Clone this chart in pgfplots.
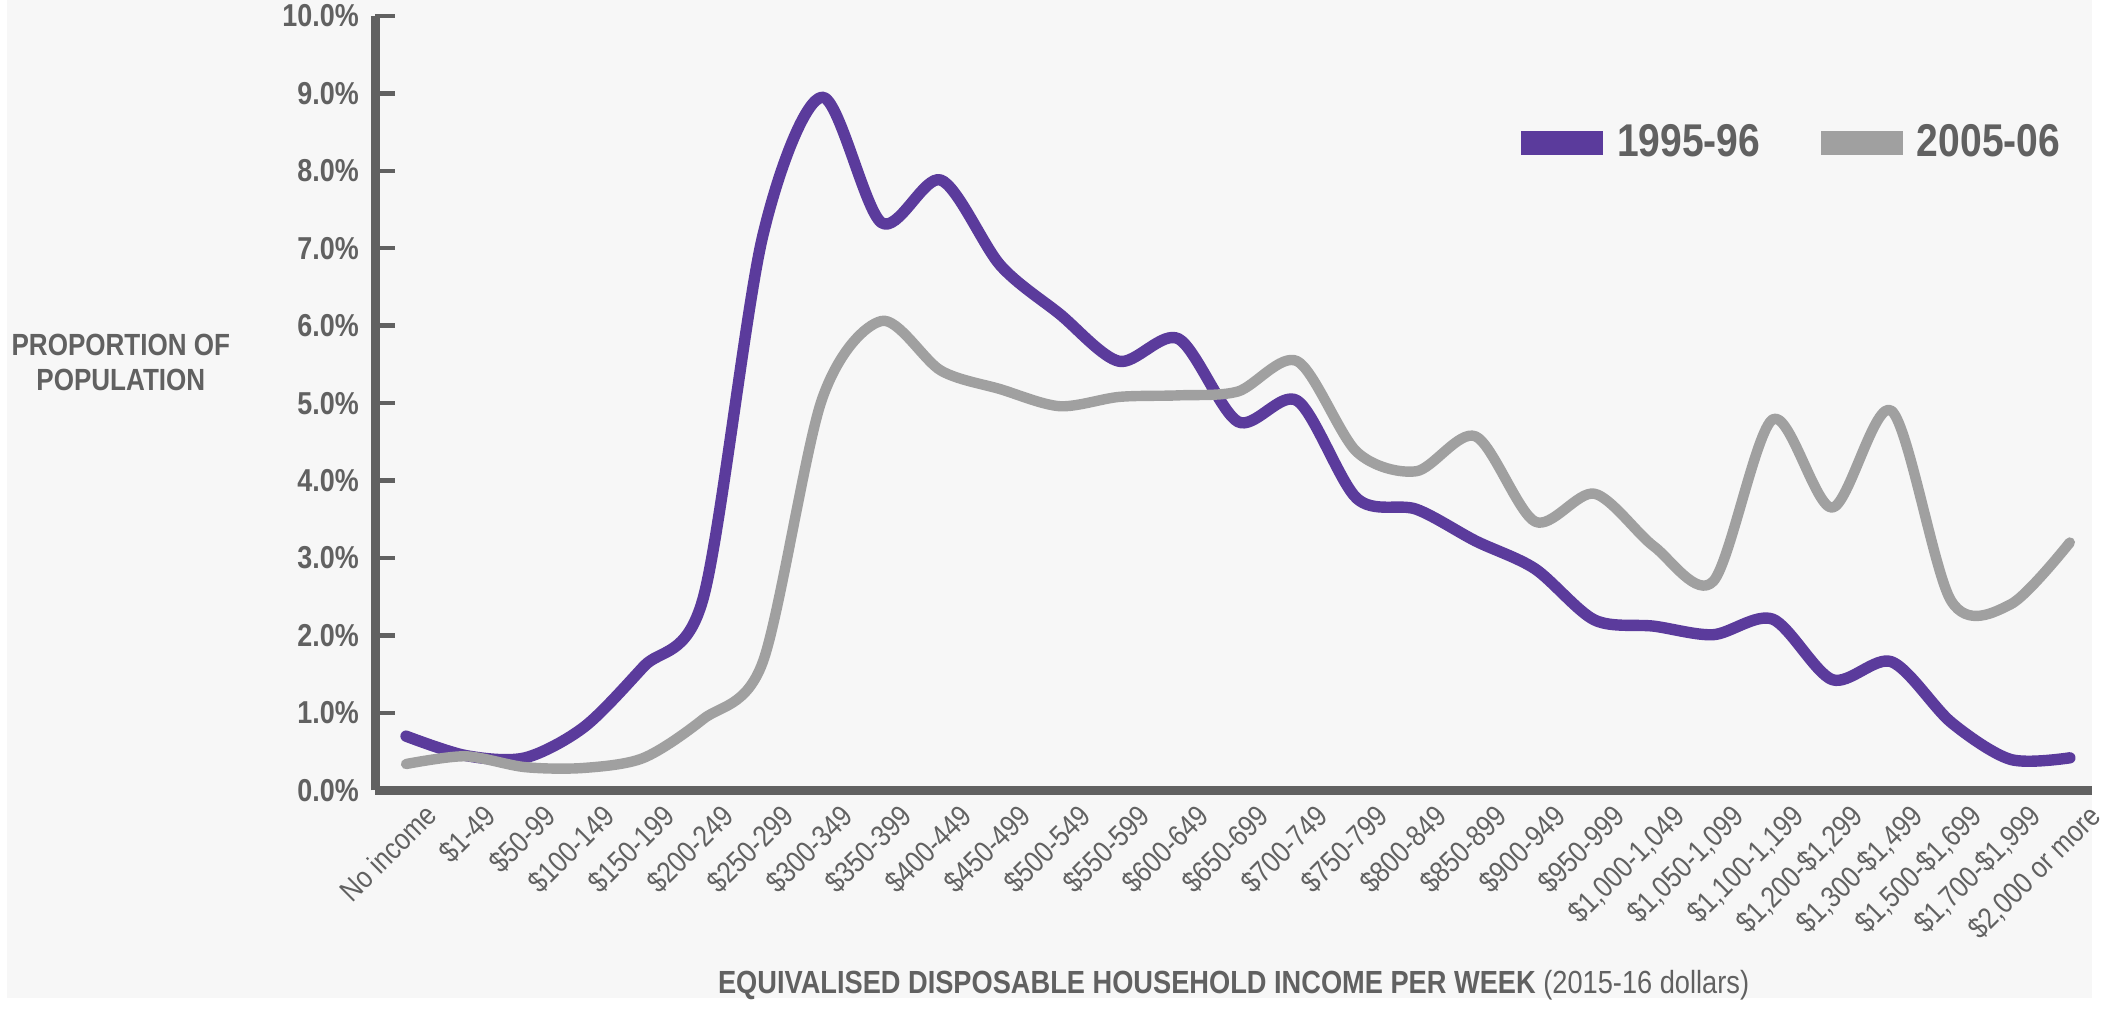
\documentclass[border=0pt]{standalone}
\usepackage{fontspec}
\setmainfont{Liberation Sans}[FakeStretch=0.85]
\usepackage{pgfplots}
\usepackage{pgfplotstable}
\pgfplotsset{compat=1.18}

\definecolor{purp}{HTML}{5B3B9C}
\definecolor{grey}{HTML}{A0A0A0}
\definecolor{axisgray}{HTML}{616161}
\definecolor{bg}{HTML}{F7F7F7}

% share of population per income band, in %
\pgfplotstableread{
x  y95   y05
0  0.70  0.34
1  0.45  0.44
2  0.42  0.30
3  0.82  0.29
4  1.60  0.42
5  2.48  0.92
6  7.15  1.65
7  8.95  5.05
8  7.33  6.06
9  7.88  5.42
10 6.78  5.18
11 6.15  4.96
12 5.54  5.08
13 5.83  5.10
14 4.76  5.15
15 5.03  5.54
16 3.77  4.37
17 3.63  4.12
18 3.22  4.57
19 2.86  3.47
20 2.20  3.83
21 2.12  3.15
22 2.01  2.70
23 2.21  4.79
24 1.43  3.65
25 1.66  4.90
26 0.88  2.45
27 0.40  2.40
28 0.42  3.20
}\incdata

\begin{document}
\begin{tikzpicture}
\fill[bg] (-37.2mm,-21mm) rectangle (173.3mm,79.8mm);
\begin{axis}[
  at={(0,0)}, anchor=south west,
  scale only axis,
  width=173.3mm, height=78.2mm,
  xmin=-0.517, xmax=28.37,
  ymin=0, ymax=10,
  clip=false,
  axis x line=bottom, axis y line=left,
  axis line style={-, line width=0.9mm, axisgray},
  every outer x axis line/.append style={-},
  every outer y axis line/.append style={-},
  xtick={0,...,28},
  xticklabels={{No income},{\$1-49},{\$50-99},{\$100-149},{\$150-199},{\$200-249},
    {\$250-299},{\$300-349},{\$350-399},{\$400-449},{\$450-499},{\$500-549},
    {\$550-599},{\$600-649},{\$650-699},{\$700-749},{\$750-799},{\$800-849},
    {\$850-899},{\$900-949},{\$950-999},{\$1,000-1,049},{\$1,050-1,099},
    {\$1,100-1,199},{\$1,200-\$1,299},{\$1,300-\$1,499},{\$1,500-\$1,699},
    {\$1,700-\$1,999},{\$2,000 or more}},
  x tick style={draw=none},
  xticklabel style={rotate=45, anchor=north east, inner sep=0pt,
    yshift=-2mm, xshift=0.4mm,
    font=\fontsize{8.6}{10}\selectfont, text=axisgray},
  ytick={0,1,...,10},
  tick align=inside,
  major tick length=2mm,
  y tick style={line width=0.45mm, axisgray},
  /pgf/number format/assume math mode=true,
  yticklabel={\pgfmathprintnumber[fixed,fixed zerofill,precision=1]{\tick}\%},
  yticklabel style={font=\bfseries\fontsize{9.1}{10}\selectfont, text=axisgray,
    inner sep=0pt, xshift=-1.6mm},
  xlabel={\textbf{EQUIVALISED DISPOSABLE HOUSEHOLD INCOME PER WEEK} (2015-16 dollars)},
  xlabel style={at={(axis description cs:0.5,0)}, anchor=base, yshift=-20.5mm,
    font=\fontsize{9.2}{11}\selectfont, text=axisgray},
  ylabel={PROPORTION OF\\POPULATION},
  ylabel style={rotate=-90, at={(axis description cs:-0.1483,0.5524)}, anchor=center,
    align=center, font=\bfseries\fontsize{8.8}{10.2}\selectfont, text=axisgray},
  legend columns=2,
  legend style={at={(0.667,0.87)}, anchor=north west, draw=none, fill=none,
    inner sep=0pt, font=\bfseries\fontsize{13.2}{15}\selectfont, text=axisgray,
    /tikz/every odd column/.append style={column sep=0.7mm},
    /tikz/every even column/.append style={column sep=5.4mm}},
  legend image code/.code={\fill[#1, draw=none] (0mm,-1.2mm) rectangle (8.3mm,1.2mm);},
]
\addplot[purp, line width=1.15mm, smooth, line cap=round, line join=round]
  table[x=x, y=y95] {\incdata};
\addplot[grey, line width=1.05mm, smooth, line cap=round, line join=round]
  table[x=x, y=y05] {\incdata};
\legend{1995-96, 2005-06}
\end{axis}
\end{tikzpicture}
\end{document}
